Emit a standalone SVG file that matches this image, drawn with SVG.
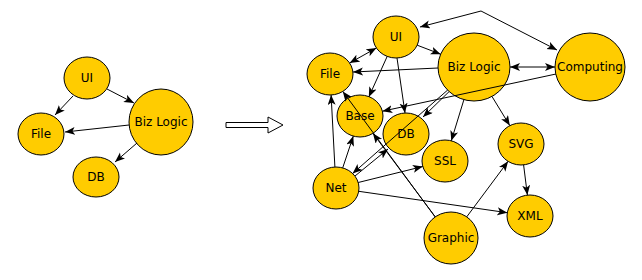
<svg xmlns="http://www.w3.org/2000/svg" width="642" height="280" viewBox="0 0 642 280">
<style>
.n ellipse{fill:#FFCC00;stroke:#000;stroke-width:1}
.n text{font-family:"DejaVu Sans",sans-serif;font-size:12px;fill:#000;text-anchor:middle}
.e line,.e polyline{stroke:#000;stroke-width:1;fill:none;marker-end:url(#ah)}
.e .both{marker-start:url(#ah)}
</style>
<defs>
<marker id="ah" markerUnits="userSpaceOnUse" markerWidth="11" markerHeight="9" refX="10" refY="4" orient="auto-start-reverse" viewBox="0 0 11 9">
<path d="M0,0 L10,4 L0,8 L2.5,4 z" fill="#000"/>
</marker>
</defs>
<rect width="642" height="280" fill="#fff"/>
<!-- left graph nodes -->
<g id="l-ui" class="n"><ellipse cx="87" cy="78" rx="23" ry="21"/><text x="87" y="82">UI</text></g>
<g id="l-file" class="n"><ellipse cx="41" cy="134" rx="23" ry="21"/><text x="41" y="138">File</text></g>
<g id="l-biz" class="n"><ellipse cx="161" cy="122" rx="32" ry="33"/><text x="161" y="126">Biz Logic</text></g>
<g id="l-db" class="n"><ellipse cx="96" cy="177" rx="23" ry="20"/><text x="96" y="181">DB</text></g>
<!-- right graph nodes -->
<g id="r-ui" class="n"><ellipse cx="396" cy="37" rx="23" ry="21"/><text x="396" y="41">UI</text></g>
<g id="r-file" class="n"><ellipse cx="330" cy="74" rx="23" ry="21"/><text x="330" y="78">File</text></g>
<g id="r-biz" class="n"><ellipse cx="474" cy="67" rx="36" ry="34"/><text x="474" y="71">Biz Logic</text></g>
<g id="r-computing" class="n"><ellipse cx="590" cy="67" rx="35" ry="34"/><text x="590" y="71">Computing</text></g>
<g id="r-base" class="n"><ellipse cx="360" cy="116" rx="23" ry="21"/><text x="360" y="120">Base</text></g>
<g id="r-db" class="n"><ellipse cx="406" cy="134" rx="23" ry="21"/><text x="406" y="138">DB</text></g>
<g id="r-ssl" class="n"><ellipse cx="445" cy="161" rx="23" ry="21"/><text x="445" y="165">SSL</text></g>
<g id="r-net" class="n"><ellipse cx="336" cy="188" rx="23" ry="21"/><text x="336" y="192">Net</text></g>
<g id="r-graphic" class="n"><ellipse cx="451" cy="238" rx="27" ry="26"/><text x="451" y="242">Graphic</text></g>
<g id="r-svg" class="n"><ellipse cx="521" cy="144" rx="23" ry="21"/><text x="521" y="148">SVG</text></g>
<g id="r-xml" class="n"><ellipse cx="530" cy="216" rx="23" ry="21"/><text x="530" y="220">XML</text></g>
<!-- transform arrow -->
<g id="transform-arrow"><polygon points="226,122.5 268,122.5 268,117 283,125 268,133 268,127.5 226,127.5" fill="#fff" stroke="#000" stroke-width="1"/></g>
<!-- connectors -->
<g id="connectors" class="e">
<line x1="73" y1="96" x2="55" y2="115"/>
<line x1="107" y1="89" x2="134" y2="103"/>
<line x1="129" y1="125" x2="65" y2="132"/>
<line x1="137" y1="143" x2="115" y2="162"/>
<polyline class="both" points="420,27 481,11 557,50"/>
<line class="both" x1="376.4" y1="48" x2="349.6" y2="63"/>
<line x1="417.2" y1="45.2" x2="440.7" y2="54.2"/>
<line x1="438" y1="68" x2="353" y2="72"/>
<line x1="387.2" y1="56.4" x2="368.8" y2="97"/>
<line x1="397" y1="58" x2="405" y2="113"/>
<line class="both" x1="555" y1="67" x2="510" y2="67"/>
<line x1="556" y1="74" x2="382.4" y2="111.2"/>
<line x1="449.1" y1="91.6" x2="423" y2="117"/>
<line x1="447.6" y1="90.1" x2="352.6" y2="173.5"/>
<line x1="355" y1="176" x2="388" y2="149"/>
<line x1="435.3" y1="216.9" x2="372.9" y2="133.3"/>
<line x1="435" y1="216.8" x2="342.8" y2="91.4"/>
<line x1="463.9" y1="99.7" x2="451.3" y2="140.8"/>
<line x1="492" y1="96.5" x2="509.8" y2="125.6"/>
<line x1="523.6" y1="164.9" x2="527.4" y2="195.1"/>
<line x1="466.7" y1="216.9" x2="508.1" y2="161.3"/>
<line x1="358.7" y1="191.3" x2="507.3" y2="212.7"/>
<line x1="358.2" y1="182.5" x2="422.8" y2="166.5"/>
<line x1="342.7" y1="167.9" x2="353.3" y2="136.1"/>
<line x1="334.9" y1="167" x2="331.1" y2="95"/>
</g>
</svg>
